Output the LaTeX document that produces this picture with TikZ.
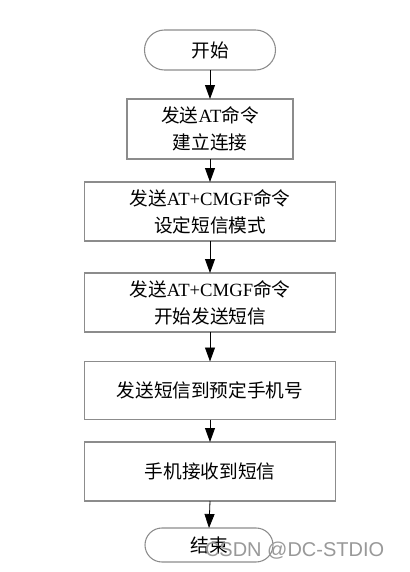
\documentclass[tikz,border=0pt]{standalone}
\usepackage{fontspec}
\setmainfont{Liberation Serif}
\newfontfamily\cjk{Noto Sans CJK SC}
\newfontfamily\wmfont{Liberation Sans}
\usetikzlibrary{arrows.meta}
\begin{document}
\begin{tikzpicture}[x=0.75pt,y=-0.75pt,
  every node/.style={inner sep=0pt, outer sep=0pt},
  procbox/.style={draw=black!45, line width=0.8pt, rectangle, align=center,
    font=\fontsize{14pt}{20pt}\selectfont},
  termbox/.style={draw=black!45, line width=0.8pt, rectangle, rounded corners=17pt,
    align=center, font=\fontsize{14pt}{20pt}\selectfont},
  flow/.style={draw=black, line width=0.6pt, -{Triangle[length=10.5pt,width=7.5pt]}},
  wm/.style={text=black!40, font=\wmfont\fontsize{15pt}{18pt}\selectfont}
]
\fill[white] (0,0) rectangle (410,572);
\useasboundingbox (0,0) rectangle (410,572);

\node[termbox, minimum width=131*0.75pt, minimum height=40*0.75pt, rounded corners=15pt] (start) at (210,50) {\cjk 开始};
\node[procbox, minimum width=166*0.75pt, minimum height=60*0.75pt] (b1) at (210,129)
  {{\cjk 发送}AT{\cjk 命令}\\{\cjk 建立连接}};
\node[procbox, minimum width=251*0.75pt, minimum height=59*0.75pt] (b2) at (210,211.5)
  {{\cjk 发送}AT+CMGF{\cjk 命令}\\{\cjk 设定短信模式}};
\node[procbox, minimum width=251*0.75pt, minimum height=59*0.75pt] (b3) at (210,302.5)
  {{\cjk 发送}AT+CMGF{\cjk 命令}\\{\cjk 开始发送短信}};
\node[procbox, minimum width=251*0.75pt, minimum height=58*0.75pt] (b4) at (210,390.5)
  {\cjk 发送短信到预定手机号};
\node[procbox, minimum width=251*0.75pt, minimum height=59*0.75pt] (b5) at (210,471.5)
  {\cjk 手机接收到短信};
\node[termbox, minimum width=128*0.75pt, minimum height=34*0.75pt, rounded corners=12.75pt] (end) at (209,545) {\cjk 结束};

\draw[flow] (start.south) -- (b1.north);
\draw[flow] (b1.south) -- (b2.north);
\draw[flow] (b2.south) -- (b3.north);
\draw[flow] (b3.south) -- (b4.north);
\draw[flow] (b4.south) -- (b5.north);
\draw[flow] (b5.south) -- (end.north);

\node[wm, anchor=west] (wmark) at (205,551) {CSDN @DC-STDIO};
\end{tikzpicture}
\end{document}
